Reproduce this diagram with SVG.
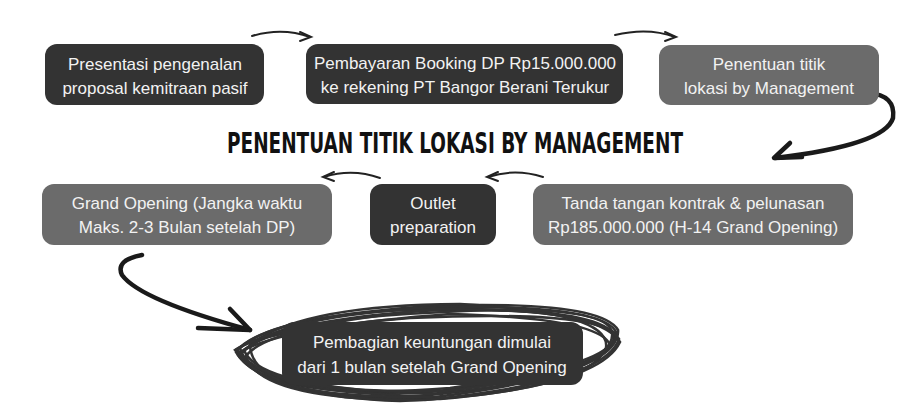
<svg xmlns="http://www.w3.org/2000/svg" width="898" height="413" viewBox="0 0 898 413">
<defs>
<style>
.dark{fill:#333333}
.gray{fill:#6b6b6b}
.t{font-family:"Liberation Sans",Arial,sans-serif;font-size:17px;fill:#f2f2f2;text-anchor:middle}
.thin{fill:none;stroke:#222;stroke-width:2;stroke-linecap:round}
.thick{fill:none;stroke:#1a1a1a;stroke-width:4.5;stroke-linecap:round;stroke-linejoin:round}
.scr{fill:none;stroke:#333;stroke-width:2.6}
.title{font-family:"DejaVu Sans Condensed","DejaVu Sans",sans-serif;font-weight:bold;font-size:28px;fill:#111}
</style>
</defs>
<rect width="898" height="413" fill="#ffffff"/>

<g id="connectors">
<path class="thin" d="M252 36 Q282 27 310 37"/>
<path class="thin" d="M300 32 L311 37 L300 41"/>
<path class="thin" d="M615 35 Q648 27 675 37"/>
<path class="thin" d="M665 32 L676 37 L665 41"/>
<path class="thick" d="M868 93 Q896 95 893 118 Q885 145 775 158"/>
<path class="thick" d="M790 143 L774 158 L802 157"/>
<path class="thin" d="M543 177 Q515 168 488 177"/>
<path class="thin" d="M498 172 L487 177 L498 181"/>
<path class="thin" d="M380 178 Q352 168 324 177"/>
<path class="thin" d="M334 172 L323 177 L334 181"/>
<path class="thick" d="M142 255 Q115 260 122 275 Q140 300 250 330"/>
<path class="thick" d="M230 309 L250 330 L198 328"/>
</g>

<g id="scribble">
<path class="scr" d="M236 352 Q260 318 430 306 Q600 300 618 330 Q622 370 430 392 Q262 398 236 352 Z"/>
<path class="scr" d="M240 348 Q280 312 440 309 Q610 308 614 338 Q606 378 420 396 Q250 392 240 348 Z"/>
<path class="scr" d="M238 355 Q270 322 420 311 Q596 304 620 342 Q600 385 440 399 Q270 400 238 355 Z"/>
<path class="scr" d="M244 350 Q290 326 450 314 Q600 318 610 345 Q590 380 430 394 Q258 388 244 350 Z"/>
<path class="scr" d="M235 350 Q262 330 410 318 Q590 310 616 334 Q614 366 450 388 Q280 402 235 350 Z"/>
<path class="scr" d="M250 345 Q300 305 460 304 Q612 312 606 348 Q588 392 400 401 Q252 396 250 345 Z"/>
<path class="scr" d="M242 353 Q275 315 445 307 Q615 305 617 336 Q610 375 435 397 Q255 399 242 353 Z"/>
<path class="scr" d="M237 349 Q285 320 425 313 Q605 302 612 332 Q618 372 445 391 Q265 395 237 349 Z"/>
<path class="scr" d="M246 356 Q268 326 435 309 Q598 308 619 339 Q605 382 425 400 Q260 401 246 356 Z"/>
</g>

<g id="n1"><rect class="dark" x="45" y="44" width="219" height="61" rx="12"/>
<text class="t" x="155" y="70">Presentasi pengenalan</text><text class="t" x="155" y="94">proposal kemitraan pasif</text></g>

<g id="n2"><rect class="dark" x="306" y="44" width="317" height="60" rx="12"/>
<text class="t" x="465" y="69">Pembayaran Booking DP Rp15.000.000</text><text class="t" x="465" y="93">ke rekening PT Bangor Berani Terukur</text></g>

<g id="n3"><rect class="gray" x="659" y="45" width="220" height="60" rx="12"/>
<text class="t" x="769" y="70">Penentuan titik</text><text class="t" x="769" y="94">lokasi by Management</text></g>

<g id="title"><text class="title" x="227" y="153" textLength="456" lengthAdjust="spacingAndGlyphs">PENENTUAN TITIK LOKASI BY MANAGEMENT</text></g>

<g id="n4"><rect class="gray" x="42" y="184" width="290" height="61" rx="12"/>
<text class="t" x="187" y="209">Grand Opening (Jangka waktu</text><text class="t" x="187" y="233">Maks. 2-3 Bulan setelah DP)</text></g>

<g id="n5"><rect class="dark" x="370" y="184" width="126" height="61" rx="12"/>
<text class="t" x="433" y="209">Outlet</text><text class="t" x="433" y="233">preparation</text></g>

<g id="n6"><rect class="gray" x="533" y="184" width="320" height="61" rx="12"/>
<text class="t" x="693" y="209">Tanda tangan kontrak &amp; pelunasan</text><text class="t" x="693" y="233">Rp185.000.000 (H-14 Grand Opening)</text></g>

<g id="n7"><rect class="dark" x="282" y="322" width="301" height="63" rx="12"/>
<text class="t" x="432" y="348">Pembagian keuntungan dimulai</text><text class="t" x="432" y="373">dari 1 bulan setelah Grand Opening</text></g>
</svg>
